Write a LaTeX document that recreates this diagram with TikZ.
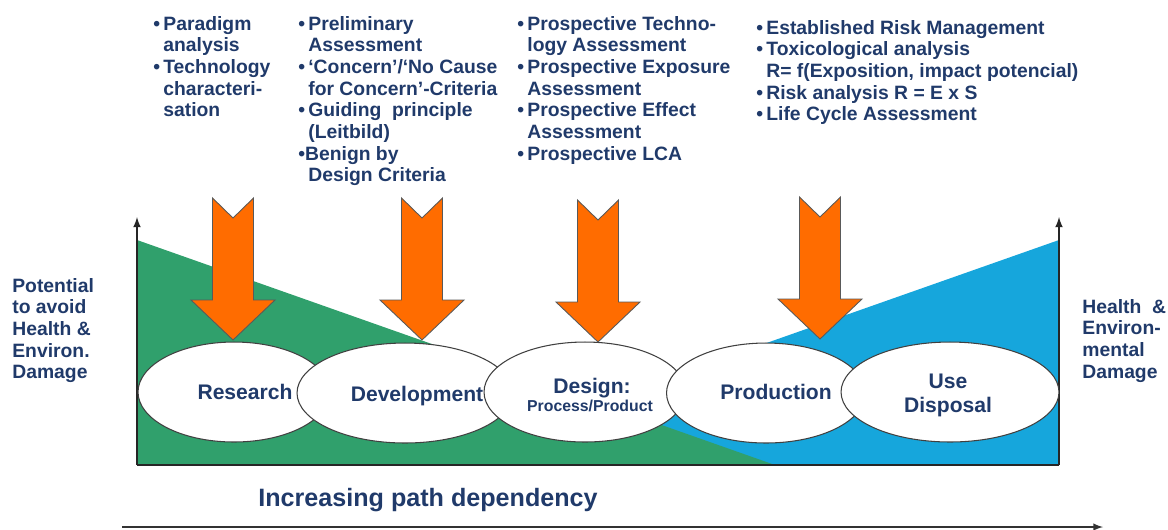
\documentclass[tikz,border=0pt]{standalone}
\usepackage{fontspec}
\setmainfont{Liberation Sans}
\usetikzlibrary{shapes.geometric}
\definecolor{txtblue}{RGB}{32,58,106}
\definecolor{avoidgreen}{RGB}{48,160,108}
\definecolor{damageblue}{RGB}{22,166,220}
\definecolor{arroworange}{RGB}{255,108,0}
\newcommand{\bul}{\makebox[5.7pt][l]{\textbullet}}
\newcommand{\ind}{\hspace*{5.7pt}}
% block arrow pointing down onto a phase, drawn from its tip
\newcommand{\phasearrow}[1]{%
  \draw[toolarrow] (#1) -- ++(-42,-40) -- ++(21.5,0) -- ++(0,-102) -- ++(20.5,20)
    -- ++(20.5,-20) -- ++(0,102) -- ++(21.5,0) -- cycle;}
\begin{document}
\begin{tikzpicture}[
  x=0.02cm, y=-0.02cm,
  bullets/.style={anchor=north west, inner sep=0pt, align=left, text=txtblue, font=\fontsize{11}{12.3}\selectfont\bfseries},
  phase/.style={ellipse, draw=black!75, fill=white, minimum height=2cm, inner sep=0pt, line width=0.6pt},
  phaselabel/.style={anchor=base, inner sep=0pt, text=txtblue, font=\fontsize{12}{13.7}\selectfont\bfseries},
  toolarrow/.style={fill=arroworange, draw=black!65, line width=0.5pt},
  axis/.style={-latex, line width=1pt, draw=black!85}
]
\useasboundingbox (0,0) rectangle (1168,529);

% areas
\fill[damageblue] (1059,240) -- (1059,465) -- (420,465) -- cycle;
\fill[avoidgreen] (137,240) -- (137,465) -- (775,465) -- cycle;

\coordinate (origin) at (137,465);
\coordinate (rightfoot) at (1059,465);
\coordinate (lefttop) at (137,217);
\coordinate (righttop) at (1059,217);
\draw[axis] (origin) -- (lefttop);
\draw[axis] (rightfoot) -- (righttop);
\draw[line width=1pt, draw=black!85] (origin) -- (rightfoot);

% phases
\node[phase, minimum width=3.84cm] (research) at (234,392) {};
\node[phaselabel] (researchtext) at (245,399) {Research};
\node[phase, minimum width=4.32cm] (development) at (405,393) {};
\node[phaselabel] (developmenttext) at (417,401) {Development};
\node[phase, minimum width=4.04cm] (design) at (585,392) {};
\node[phaselabel] (designtext) at (592,393) {Design:};
\node[phaselabel, font=\fontsize{9}{10}\selectfont\bfseries] (designsub) at (590,411) {Process/Product};
\node[phase, minimum width=3.98cm] (production) at (766,393) {};
\node[phaselabel] (productiontext) at (776,399) {Production};
\node[phase, minimum width=4.36cm] (usedisposal) at (950,392) {};
\node[phaselabel, anchor=center, align=center] (usetext) at (948,395) {Use\\Disposal};

% arrows
\coordinate (tipres) at (233,340);
\coordinate (tipdev) at (422,340);
\coordinate (tipdes) at (598,342);
\coordinate (tipprod) at (820,339);
\phasearrow{tipres}
\phasearrow{tipdev}
\phasearrow{tipdes}
\phasearrow{tipprod}

% tools
\node[bullets] (researchtools) at (153,16) {\bul Paradigm\\\ind analysis\\\bul Technology\\\ind characteri-\\\ind sation};
\node[bullets] (devtools) at (298,16) {\bul Preliminary\\\ind Assessment\\\bul ‘Concern’/‘No Cause\\\ind for Concern’-Criteria\\\bul Guiding\ \ principle\\\ind (Leitbild)\\\textbullet Benign by\\\ind Design Criteria};
\node[bullets] (designtools) at (517,16) {\bul Prospective Techno-\\\ind logy Assessment\\\bul Prospective Exposure\\\ind Assessment\\\bul Prospective Effect\\\ind Assessment\\\bul Prospective LCA};
\node[bullets] (prodtools) at (756,20) {\bul Established Risk Management\\\bul Toxicological analysis\\\ind R= f(Exposition, impact potencial)\\\bul Risk analysis R = E x S\\\bul Life Cycle Assessment};

% axis labels
\node[bullets] (avoidlabel) at (12,278) {Potential\\to avoid\\Health \&\\Environ.\\Damage};
\node[bullets] (damagelabel) at (1082,299) {Health \ \&\\Environ-\\mental\\Damage};
\node[text=txtblue, font=\fontsize{14.3}{16}\selectfont\bfseries, inner sep=0pt] (pathlabel) at (428,500) {Increasing path dependency};
\coordinate (pathstart) at (122,527);
\coordinate (pathend) at (1103,527);
\draw[-latex, line width=0.9pt, draw=black!80] (pathstart) -- (pathend);
\end{tikzpicture}
\end{document}
